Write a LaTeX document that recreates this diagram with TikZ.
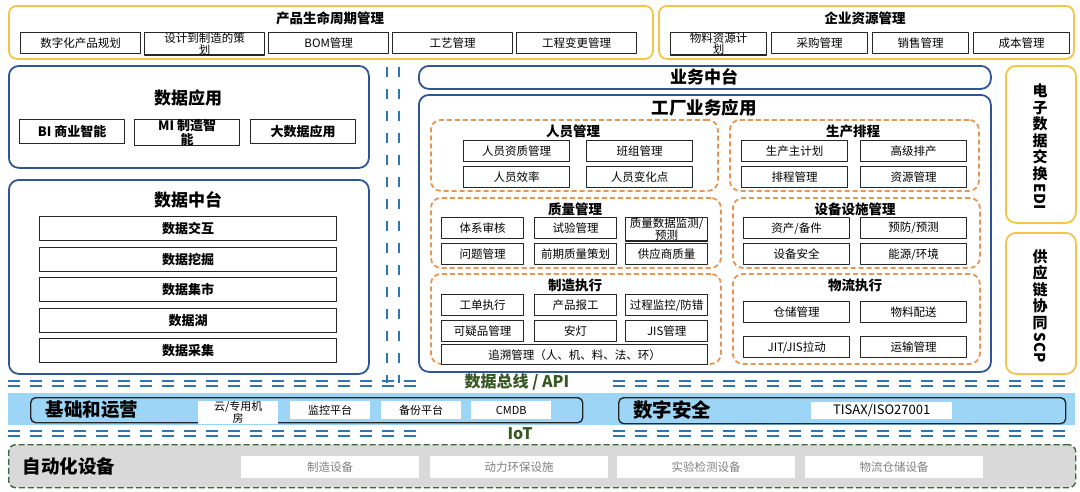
\documentclass[tikz,border=0pt]{standalone}
\usepackage{fontspec}
\setmainfont{Noto Sans CJK SC}
\usepackage{graphicx}
\usetikzlibrary{positioning}
\definecolor{lifegold}{RGB}{246,196,72}
\definecolor{platblue}{RGB}{47,85,151}
\definecolor{busblue}{RGB}{46,117,182}
\definecolor{apporange}{RGB}{230,150,85}
\definecolor{bandblue}{RGB}{157,213,247}
\definecolor{iotgreen}{RGB}{56,87,35}
\definecolor{devgreen}{RGB}{60,105,60}
\definecolor{devgray}{RGB}{217,217,217}

\begin{document}
\begin{tikzpicture}[x=1pt,y=-1pt,line join=round,
  goldbox/.style={draw=lifegold,rounded corners=8pt,line width=1.8pt,anchor=north west,inner sep=0pt},
  bluebox/.style={draw=platblue,rounded corners=10pt,line width=1.8pt,anchor=north west,inner sep=0pt},
  areabox/.style={draw=apporange,dash pattern=on 5pt off 3pt,line width=1.8pt,rounded corners=10pt,anchor=north west,inner sep=0pt},
  cellbox/.style={draw=black!85,line width=1.4pt,fill=white,anchor=north west,inner sep=0pt,align=center,font=\fontsize{11.5}{10.5}\selectfont},
  platebox/.style={fill=white,anchor=north west,inner sep=0pt,align=center,font=\fontsize{11}{9}\selectfont},
  headtext/.style={inner sep=0pt,font=\bfseries\fontsize{13.5}{13.5}\selectfont},
  bigtext/.style={inner sep=0pt,font=\bfseries\fontsize{17}{17}\selectfont},
  sidetext/.style={anchor=north,align=center,inner sep=0pt,font=\bfseries\fontsize{15}{16.5}\selectfont},
  busline/.style={busblue,line width=2.6pt,dash pattern=on 12pt off 10pt},
  bustext/.style={inner sep=0pt,text=iotgreen,font=\bfseries\fontsize{16}{16}\selectfont},
]
\useasboundingbox (0,0) rectangle (1080,491);

\node[goldbox,minimum width=644pt,minimum height=53pt] (plm) at (8,5) {};
\node[headtext] (plm-t) at (330,18) {产品生命周期管理};
\foreach \lbl [count=\i] in {数字化产品规划,设计到制造的策\\划,BOM管理,工艺管理,工程变更管理}
  \node[cellbox,minimum width=120pt,minimum height=21pt] (plm-\i) at ({20+(\i-1)*124},32) {\lbl};

\node[goldbox,minimum width=415pt,minimum height=53pt] (erp) at (658,5) {};
\node[headtext] (erp-t) at (865,18) {企业资源管理};
\foreach \lbl [count=\i] in {物料资源计\\划,采购管理,销售管理,成本管理}
  \node[cellbox,minimum width=96pt,minimum height=21pt] (erp-\i) at ({670+(\i-1)*101},32) {\lbl};

\node[bluebox,minimum width=360pt,minimum height=102pt] (dapp) at (8,65) {};
\node[bigtext] (dapp-t) at (188,98) {数据应用};
\foreach \lbl/\x [count=\i] in {BI 商业智能/19,MI 制造智\\能/134,大数据应用/250}
  \node[cellbox,minimum width=105pt,minimum height=24pt,font=\bfseries\fontsize{13}{12}\selectfont] (dapp-\i) at (\x,119) {\lbl};

\node[bluebox,minimum width=360pt,minimum height=194pt] (dmid) at (8,179) {};
\node[bigtext] (dmid-t) at (188,200) {数据中台};
\foreach \lbl [count=\i] in {数据交互,数据挖掘,数据集市,数据湖,数据采集}
  \node[cellbox,minimum width=297pt,minimum height=24pt,font=\bfseries\fontsize{13}{13}\selectfont] (dmid-\i) at (39,{216+(\i-1)*30.5}) {\lbl};

\draw[busline,dash pattern=on 10pt off 12pt] (387,67) -- (387,383);
\draw[busline,dash pattern=on 10pt off 12pt] (399,67) -- (399,383);

\node[bluebox,minimum width=572pt,minimum height=23pt] (bmid) at (418,65) {};
\node[bigtext] (bmid-t) at (704,77) {业务中台};
\node[bluebox,minimum width=572pt,minimum height=277pt] (fapp) at (418,94) {};
\node[inner sep=0pt,font=\bfseries\fontsize{17.5}{17.5}\selectfont] (fapp-t) at (704,108) {工厂业务应用};

\node[areabox,minimum width=287pt,minimum height=71pt] (staff) at (430,119) {};
\node[headtext] (staff-t) at (573,131) {人员管理};
\foreach \lbl/\x/\y [count=\i] in {人员资质管理/463/140,班组管理/586/140,人员效率/463/166,人员变化点/586/166}
  \node[cellbox,minimum width=106pt,minimum height=21pt] (staff-\i) at (\x,\y) {\lbl};

\node[areabox,minimum width=249pt,minimum height=71pt] (sched) at (729,119) {};
\node[headtext] (sched-t) at (853,131) {生产排程};
\foreach \lbl/\x/\y [count=\i] in {生产主计划/741/140,高级排产/860/140,排程管理/741/166,资源管理/860/166}
  \node[cellbox,minimum width=106pt,minimum height=21pt] (sched-\i) at (\x,\y) {\lbl};

\node[areabox,minimum width=290pt,minimum height=70pt] (qual) at (430,197) {};
\node[headtext] (qual-t) at (575,209) {质量管理};
\foreach \lbl/\x/\y [count=\i] in {体系审核/441/217,试验管理/534/217,{质量数据监测/\\预测}/625/217,问题管理/441/243,前期质量策划/534/243,供应商质量/625/243}
  \node[cellbox,minimum width=82pt,minimum height=21pt] (qual-\i) at (\x,\y) {\lbl};

\node[areabox,minimum width=247pt,minimum height=70pt] (equip) at (732,197) {};
\node[headtext] (equip-t) at (855,209) {设备设施管理};
\foreach \lbl/\x/\y [count=\i] in {{资产/备件}/743/217,{预防/预测}/860/217,设备安全/743/243,{能源/环境}/860/243}
  \node[cellbox,minimum width=106pt,minimum height=21pt] (equip-\i) at (\x,\y) {\lbl};

\node[areabox,minimum width=290pt,minimum height=90pt] (mfg) at (430,273) {};
\node[headtext] (mfg-t) at (575,285) {制造执行};
\foreach \lbl/\x/\y [count=\i] in {工单执行/441/294,产品报工/534/294,{过程监控/防错}/625/294,可疑品管理/441/320,安灯/534/320,JIS管理/625/320}
  \node[cellbox,minimum width=82pt,minimum height=21pt] (mfg-\i) at (\x,\y) {\lbl};
\node[cellbox,minimum width=266pt,minimum height=20pt] (mfg-7) at (441,344) {追溯管理（人、机、料、法、环）};

\node[areabox,minimum width=247pt,minimum height=90pt] (logi) at (732,273) {};
\node[headtext] (logi-t) at (855,285) {物流执行};
\foreach \lbl/\x/\y [count=\i] in {仓储管理/743/301,物料配送/860/301,{JIT/JIS拉动}/743/336,运输管理/860/336}
  \node[cellbox,minimum width=106pt,minimum height=21pt] (logi-\i) at (\x,\y) {\lbl};

\node[goldbox,rounded corners=10pt,minimum width=70pt,minimum height=157pt] (edi) at (1005,65) {};
\node[sidetext] (edi-t) at (1040,84)
  {电\\子\\数\\据\\交\\换\\[-12pt]\rotatebox{-90}{EDI}};
\node[goldbox,rounded corners=10pt,minimum width=70pt,minimum height=141pt] (scp) at (1005,232) {};
\node[sidetext] (scp-t) at (1040,249)
  {供\\应\\链\\协\\同\\[-12pt]\rotatebox{-90}{SCP}};

\foreach \y in {381,386,431,436}{
  \draw[busline] (8,\y) -- (425,\y);
  \draw[busline] (613,\y) -- (1075,\y);
}
\node[bustext] (api) at (517,382) {数据总线 / API};
\node[bustext] (iot) at (520,434) {IoT};

\node[fill=bandblue,anchor=north west,inner sep=0pt,minimum width=1067pt,minimum height=32pt] (band) at (8,393) {};
\node[draw=black!85,line width=1.4pt,rounded corners=5pt,anchor=north west,inner sep=0pt,minimum width=552pt,minimum height=25pt] (ops) at (30,397) {};
\node[inner sep=0pt,font=\bfseries\fontsize{18.5}{18.5}\selectfont] (ops-t) at (92,410) {基础和运营};
\foreach \lbl/\x [count=\i] in {{云/专用机\\房}/198,监控平台/290,备份平台/381,CMDB/471}
  \node[platebox,minimum width=80pt,minimum height=18pt] (ops-\i) at (\x,401) {\lbl};

\node[draw=black!85,line width=1.4pt,rounded corners=5pt,anchor=north west,inner sep=0pt,minimum width=447pt,minimum height=26pt] (sec) at (618,397) {};
\node[inner sep=0pt,font=\bfseries\fontsize{19.5}{19.5}\selectfont] (sec-t) at (672,410) {数字安全};
\node[platebox,minimum width=141pt,minimum height=17pt,font=\fontsize{13}{13}\selectfont] (sec-1) at (811,402) {TISAX/ISO27001};

\node[draw=devgreen,dash pattern=on 6pt off 3pt,line width=1.4pt,fill=devgray,rounded corners=7pt,anchor=north west,inner sep=0pt,minimum width=1067pt,minimum height=43pt] (auto) at (8,444) {};
\node[inner sep=0pt,font=\bfseries\fontsize{18.5}{18.5}\selectfont] (auto-t) at (69,466) {自动化设备};
\foreach \lbl/\x [count=\i] in {制造设备/241,动力环保设施/430,实验检测设备/617,物流仓储设备/805}
  \node[platebox,minimum width=178pt,minimum height=22pt,text=black!50,font=\fontsize{11.5}{11.5}\selectfont] (auto-\i) at (\x,456) {\lbl};
\end{tikzpicture}
\end{document}
